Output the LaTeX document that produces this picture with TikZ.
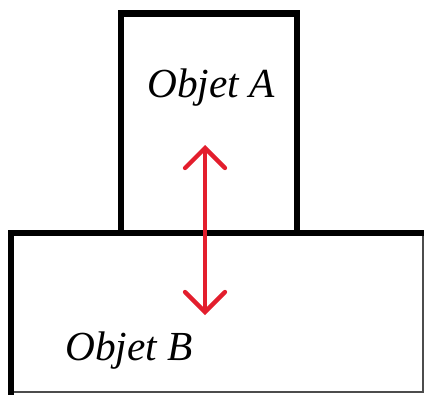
\documentclass[tikz,border=0pt]{standalone}
\usepackage{fontspec}
\setmainfont{Liberation Serif}
\usetikzlibrary{positioning}
\usetikzlibrary{arrows.meta}
\definecolor{rougefleche}{RGB}{227,30,45}

\begin{document}
\begin{tikzpicture}[x=0.75pt,y=0.75pt]
% définition des paramètres
\tikzstyle boiteobjet=[color=black,line width=5pt]
\tikzstyle bordcoupe=[color=black!70,line width=0.8pt]
\tikzstyle flecheobjet=[color=rougefleche,line width=3.2pt,line cap=round,
  {Straight Barb[length=15pt,width=30pt,line cap=round]}-{Straight Barb[length=15pt,width=30pt,line cap=round]}]
\tikzstyle texteobjet=[font=\fontsize{31}{36}\selectfont\itshape,anchor=base,inner sep=0pt]
% le cadre
\useasboundingbox (0,0) rectangle (424,394);
% l'objet B (coupé à droite et en bas)
\draw [bordcoupe] (11,161) rectangle (423,2);
\draw [boiteobjet,line cap=rect] (11,2) -- (11,161) -- (423,161);
% l'objet A posé dessus
\draw [boiteobjet,line join=miter] (121,161) -- (121,380.5) -- (297,380.5) -- (297,161);
% les textes
\node [texteobjet] (labelA) at (211,297) {Objet A};
\node [texteobjet] (labelB) at (129,34) {Objet B};
% la flèche
\coordinate (hautfleche) at (205,249);
\coordinate (basfleche) at (205,79);
\draw [flecheobjet] (basfleche) -- (hautfleche);
\end{tikzpicture}
\end{document}
